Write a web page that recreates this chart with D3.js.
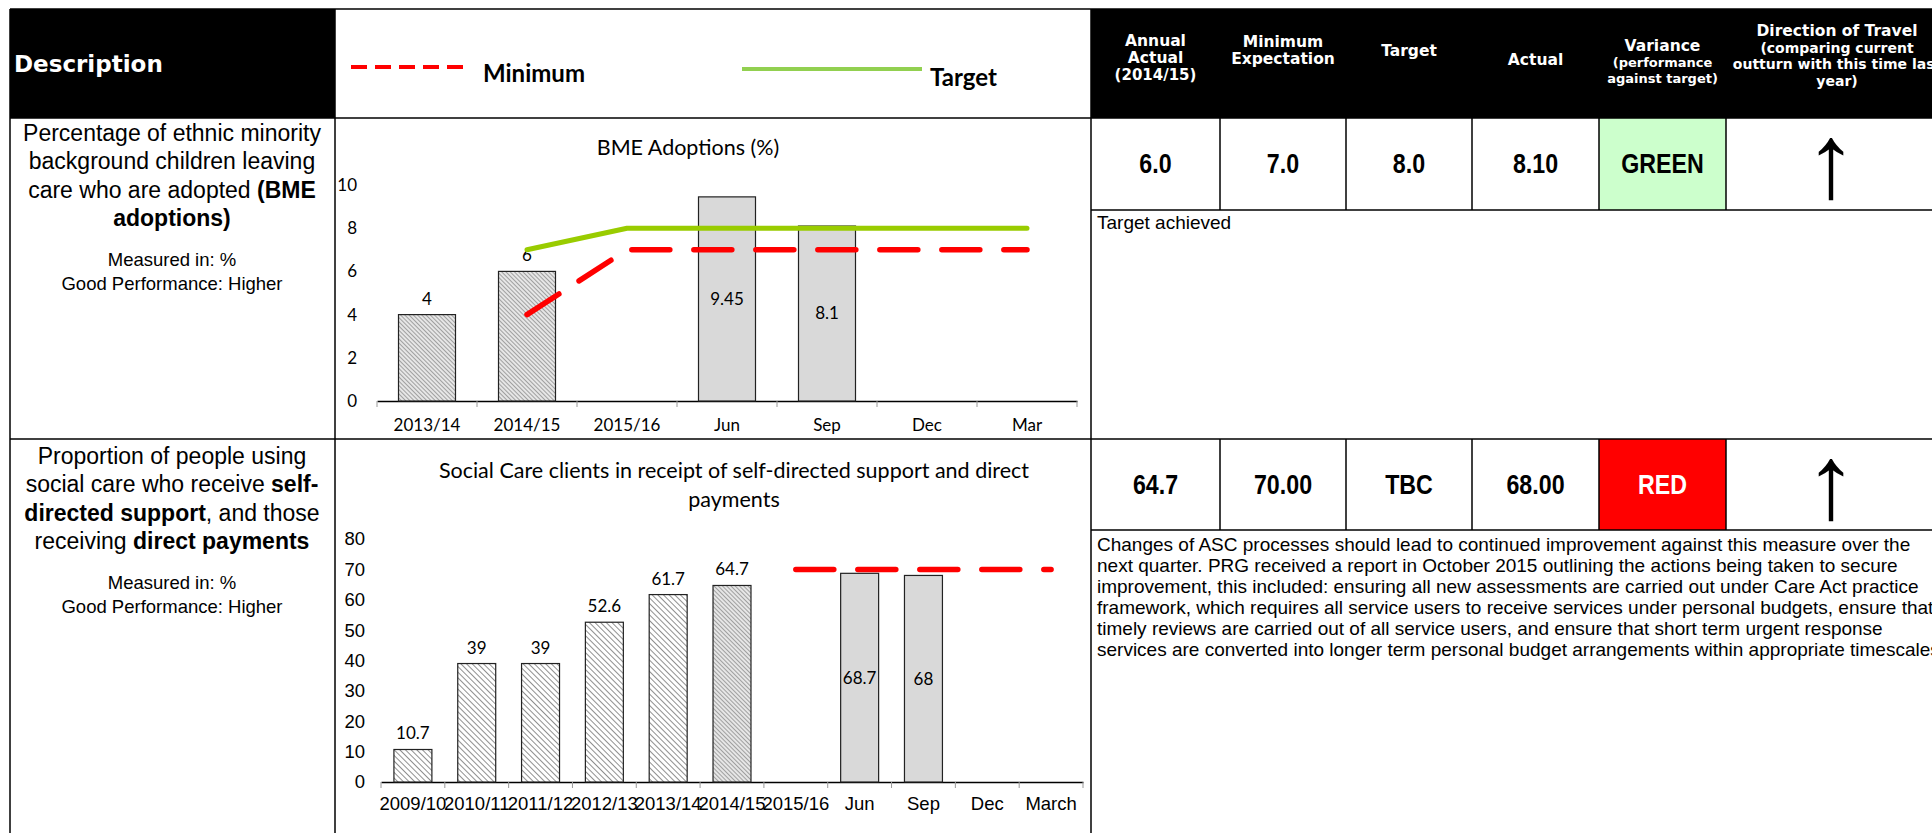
<!DOCTYPE html>
<meta charset="utf-8">
<html>
<style>
  body { margin: 0; background: #fff; }
  svg { display: block; }
  .axis path.domain { stroke: #000; stroke-width: 1.3px; }
</style>
<body>
<script src="https://d3js.org/d3.v7.min.js"></script>
<script>
// ---- data : BME adoptions ----
var bmeCats    = ["2013/14", "2014/15", "2015/16", "Jun", "Sep", "Dec", "Mar"];
var bmeActual  = [4, 6, null, 9.45, 8.1, null, null];
var bmeKind    = ["year", "year", "year", "month", "month", "month", "month"];
var bmeMinimum = [null, 4, 7, 7, 7, 7, 7];
var bmeTarget  = [null, 7, 8, 8, 8, 8, 8];
var bmeTicks   = [0, 2, 4, 6, 8, 10];

// ---- data : self-directed support ----
var sdsCats    = ["2009/10", "2010/11", "2011/12", "2012/13", "2013/14", "2014/15", "2015/16", "Jun", "Sep", "Dec", "March"];
var sdsActual  = [10.7, 39, 39, 52.6, 61.7, 64.7, null, 68.7, 68, null, null];
var sdsKind    = ["year", "year", "year", "year", "year", "year2", "year", "month", "month", "month", "month"];
var sdsMinimum = [null, null, null, null, null, null, 70, 70, 70, 70, 70];
var sdsTicks   = [0, 10, 20, 30, 40, 50, 60, 70, 80];

// ---- table ----
var headCols = [
  ["Annual", "Actual", "(2014/15)"],
  ["Minimum", "Expectation"],
  ["Target"],
  ["Actual"],
  ["Variance", "(performance", "against target)"],
  ["Direction of Travel", "(comparing current", "outturn with this time last", "year)"]
];
var bmeRow = ["6.0", "7.0", "8.0", "8.10", "GREEN"];
var sdsRow = ["64.7", "70.00", "TBC", "68.00", "RED"];
var bmeComment = ["Target achieved"];
var sdsComment = [
  "Changes of ASC processes should lead to continued improvement against this measure over the",
  "next quarter. PRG received a report in October 2015 outlining the actions being taken to secure",
  "improvement, this included: ensuring all new assessments are carried out under Care Act practice",
  "framework, which requires all service users to receive services under personal budgets, ensure that",
  "timely reviews are carried out of all service users, and ensure that short term urgent response",
  "services are converted into longer term personal budget arrangements within appropriate timescales"
];

var W = 1932, H = 833;
var svg = d3.select("body").append("svg").attr("width", W).attr("height", H);

var defs = svg.append("defs");
// light diagonal hatch (older years)
var p1 = defs.append("pattern").attr("id", "hatch").attr("patternUnits", "userSpaceOnUse")
  .attr("width", 4).attr("height", 4).attr("patternTransform", "rotate(-45)");
p1.append("rect").attr("width", 4).attr("height", 4).attr("fill", "#fff");
p1.append("line").attr("x1", 0).attr("y1", 0).attr("x2", 0).attr("y2", 4)
  .attr("stroke", "#333").attr("stroke-width", 1.1);
// dense grey hatch
var p2 = defs.append("pattern").attr("id", "hatch2").attr("patternUnits", "userSpaceOnUse")
  .attr("width", 3).attr("height", 3).attr("patternTransform", "rotate(-45)");
p2.append("rect").attr("width", 3).attr("height", 3).attr("fill", "#e6e6e6");
p2.append("line").attr("x1", 0).attr("y1", 0).attr("x2", 0).attr("y2", 3)
  .attr("stroke", "#666").attr("stroke-width", 1.1);

var colX = [10, 335, 1091, 1220, 1346, 1472, 1599, 1726, 1948];
var tableTop = 9, headBottom = 118, rowSplit = 439;

// header backgrounds
svg.append("rect").attr("x", colX[0]).attr("y", tableTop).attr("width", colX[1] - colX[0]).attr("height", headBottom - tableTop).attr("fill", "#000");
svg.append("rect").attr("x", colX[2]).attr("y", tableTop).attr("width", colX[8] - colX[2]).attr("height", headBottom - tableTop).attr("fill", "#000");

// status fills
svg.append("rect").attr("x", colX[6]).attr("y", headBottom).attr("width", colX[7] - colX[6]).attr("height", 92).attr("fill", "#ccffcc");
svg.append("rect").attr("x", colX[6]).attr("y", rowSplit).attr("width", colX[7] - colX[6]).attr("height", 91).attr("fill", "#ff0000");

// grid lines of the table
var grid = svg.append("g").attr("stroke", "#000").attr("stroke-width", 1.5);
grid.append("line").attr("x1", colX[0]).attr("x2", W).attr("y1", tableTop).attr("y2", tableTop);
grid.append("line").attr("x1", colX[0]).attr("x2", W).attr("y1", headBottom).attr("y2", headBottom);
grid.append("line").attr("x1", colX[0]).attr("x2", W).attr("y1", rowSplit).attr("y2", rowSplit);
grid.append("line").attr("x1", colX[2]).attr("x2", W).attr("y1", 210).attr("y2", 210);
grid.append("line").attr("x1", colX[2]).attr("x2", W).attr("y1", 530).attr("y2", 530);
[0, 1, 2].forEach(function(i) {
  grid.append("line").attr("x1", colX[i]).attr("x2", colX[i]).attr("y1", tableTop).attr("y2", H);
});
[3, 4, 5, 6, 7].forEach(function(i) {
  grid.append("line").attr("x1", colX[i]).attr("x2", colX[i]).attr("y1", headBottom).attr("y2", 210);
  grid.append("line").attr("x1", colX[i]).attr("x2", colX[i]).attr("y1", rowSplit).attr("y2", 530);
});

// header texts
svg.append("text").attr("x", 14).attr("y", 72).attr("fill", "#fff")
  .style("font", "bold 23px 'DejaVu Sans'").text("Description");

svg.append("line").attr("x1", 351).attr("x2", 470).attr("y1", 67).attr("y2", 67)
  .attr("stroke", "#ff0000").attr("stroke-width", 4).attr("stroke-dasharray", "16,8");
svg.append("text").attr("x", 483).attr("y", 82).style("font", "bold 24px Lato").text("Minimum");
svg.append("line").attr("x1", 742).attr("x2", 922).attr("y1", 69).attr("y2", 69)
  .attr("stroke", "#92d050").attr("stroke-width", 4);
svg.append("text").attr("x", 930).attr("y", 86).style("font", "bold 24px Lato").text("Target");

var headY = [[46, 63, 80], [47, 64], [56], [65], [51, 67, 83], [36, 53, 69, 86]];
var headSize = [[15.5, 15.5, 15], [15.5, 15.5], [15.5], [15.5], [15.5, 13, 13], [15.5, 14, 14, 14]];
headCols.forEach(function(lines, c) {
  var cx = (colX[c + 2] + colX[c + 3]) / 2;
  lines.forEach(function(t, k) {
    svg.append("text").attr("x", cx).attr("y", headY[c][k]).attr("text-anchor", "middle")
      .attr("fill", "#fff")
      .style("font", "bold " + headSize[c][k] + "px 'DejaVu Sans'").text(t);
  });
});

// value rows
function valueRow(vals, cy, statusColor) {
  vals.forEach(function(v, i) {
    svg.append("text")
      .attr("transform", "translate(" + (colX[i + 2] + colX[i + 3]) / 2 + "," + cy + ") scale(0.86,1)")
      .attr("dy", "0.35em").attr("text-anchor", "middle")
      .attr("fill", i === 4 ? statusColor : "#000")
      .style("font", "bold 27px 'Liberation Sans'").text(v);
  });
  svg.append("text").attr("x", (colX[7] + colX[8]) / 2 - 6).attr("y", cy + 33)
    .attr("text-anchor", "middle").style("font", "105px 'Liberation Sans'").text("\u2191");
}
valueRow(bmeRow, 164, "#000");
valueRow(sdsRow, 485, "#fff");

function comment(lines, y0) {
  lines.forEach(function(t, i) {
    svg.append("text").attr("x", 1097).attr("y", y0 + i * 21)
      .style("font", "19px 'Liberation Sans'").text(t);
  });
}
comment(bmeComment, 229);
comment(sdsComment, 551);

// description column
function describe(lines, y0, sub) {
  var t = svg.append("text").attr("text-anchor", "middle").style("font", "23px 'Liberation Sans'");
  lines.forEach(function(parts, i) {
    parts.forEach(function(p, j) {
      var ts = t.append("tspan").text(p[0]).style("font-weight", p[1] ? "bold" : "normal");
      if (j === 0) ts.attr("x", 172).attr("y", y0 + i * 28.3);
    });
  });
  sub.forEach(function(s, i) {
    svg.append("text").attr("x", 172).attr("y", y0 + 4 * 28.3 + 12 + i * 23.5)
      .attr("text-anchor", "middle").style("font", "18.5px 'Liberation Sans'").text(s);
  });
}
var subLines = ["Measured in: %", "Good Performance: Higher"];
describe([
  [["Percentage of ethnic minority", 0]],
  [["background children leaving", 0]],
  [["care who are adopted ", 0], ["(BME", 1]],
  [["adoptions)", 1]]
], 141, subLines);
describe([
  [["Proportion of people using", 0]],
  [["social care who receive ", 0], ["self-", 1]],
  [["directed support", 1], [", and those", 0]],
  [["receiving ", 0], ["direct payments", 1]]
], 464, subLines);

// charts
function drawChart(o) {
  var g = svg.append("g");
  var x = d3.scaleBand().domain(o.cats).range(o.xr).paddingInner(o.pad).paddingOuter(o.pad / 2);
  var y = d3.scaleLinear().domain(o.yd).range(o.yr);
  var bw = x.bandwidth();
  var cx = function(i) { return x(o.cats[i]) + bw / 2; };

  g.append("g").attr("class", "axis").attr("transform", "translate(" + o.xr[0] + ",0)")
    .call(d3.axisLeft(y).tickValues(o.ticks).tickSize(0).tickPadding(o.yPad))
    .call(function(a) { a.select(".domain").remove(); })
    .selectAll("text").style("font", o.tickFont).attr("fill", "#000");

  var xa = g.append("g").attr("class", "axis").attr("transform", "translate(0," + y(0) + ")")
    .call(d3.axisBottom(x).tickSize(0).tickSizeOuter(0));
  xa.selectAll("text").style("font", o.tickFont).attr("fill", "#000")
    .attr("y", o.xLabOff).attr("dy", "0.35em");
  var edges = o.cats.map(function(c) { return x(c) - (x.step() - bw) / 2; }).concat([o.xr[1]]);
  g.selectAll(".edge").data(edges).enter().append("line")
    .attr("x1", function(d) { return d; }).attr("x2", function(d) { return d; })
    .attr("y1", y(0)).attr("y2", y(0) + 6).attr("stroke", "#999").attr("stroke-width", 1);

  var bars = o.vals.map(function(v, i) { return { v: v, i: i, k: o.kind[i] }; })
    .filter(function(d) { return d.v != null; });
  g.selectAll(".bar").data(bars).enter().append("rect")
    .attr("x", function(d) { return x(o.cats[d.i]); }).attr("width", bw)
    .attr("y", function(d) { return y(d.v); }).attr("height", function(d) { return y(0) - y(d.v); })
    .attr("fill", function(d) { return d.k === "month" ? "#d9d9d9" : (d.k === "year2" ? "url(#hatch2)" : "url(" + o.hatch + ")"); })
    .attr("stroke", "#222").attr("stroke-width", 1.2);

  g.selectAll(".lab").data(bars).enter().append("text")
    .attr("x", function(d) { return cx(d.i); })
    .attr("y", function(d) { return d.k === "month" ? (y(d.v) + y(0)) / 2 : y(d.v) - 10; })
    .attr("dy", function(d) { return d.k === "month" ? "0.35em" : 0; })
    .attr("text-anchor", "middle").style("font", "17px Lato").text(function(d) { return d.v; });

  var line = d3.line().defined(function(d) { return d != null; })
    .x(function(d, i) { return cx(i); }).y(function(d) { return y(d); });
  if (o.target) {
    g.append("path").attr("d", line(o.target)).attr("fill", "none")
      .attr("stroke", "#99cc00").attr("stroke-width", 5).attr("stroke-linejoin", "round").attr("stroke-linecap", "round");
  }
  g.append("path").attr("d", line(o.minimum)).attr("fill", "none")
    .attr("stroke", "#ff0000").attr("stroke-width", 5.5).attr("stroke-linecap", "round")
    .attr("stroke-dasharray", "38,24");

  o.title.forEach(function(t, i) {
    g.append("text").attr("x", o.titleX).attr("y", o.titleY + i * 29).attr("text-anchor", "middle")
      .style("font", "21.5px Lato").text(t);
  });
}

drawChart({
  cats: bmeCats, vals: bmeActual, kind: bmeKind, minimum: bmeMinimum, target: bmeTarget,
  ticks: bmeTicks, xr: [377, 1077], yr: [401, 185], yd: [0, 10], pad: 0.43,
  hatch: "#hatch2", tickFont: "17px Lato", yPad: 20, xLabOff: 24,
  title: ["BME Adoptions (%)"], titleX: 688, titleY: 155
});
drawChart({
  cats: sdsCats, vals: sdsActual, kind: sdsKind, minimum: sdsMinimum, target: null,
  ticks: sdsTicks, xr: [381, 1083], yr: [782, 539], yd: [0, 80], pad: 0.405,
  hatch: "#hatch", tickFont: "18.5px 'Liberation Sans'", yPad: 16, xLabOff: 22,
  title: ["Social Care clients in receipt of self-directed support and direct", "payments"], titleX: 734, titleY: 478
});
</script>
</body>
</html>
